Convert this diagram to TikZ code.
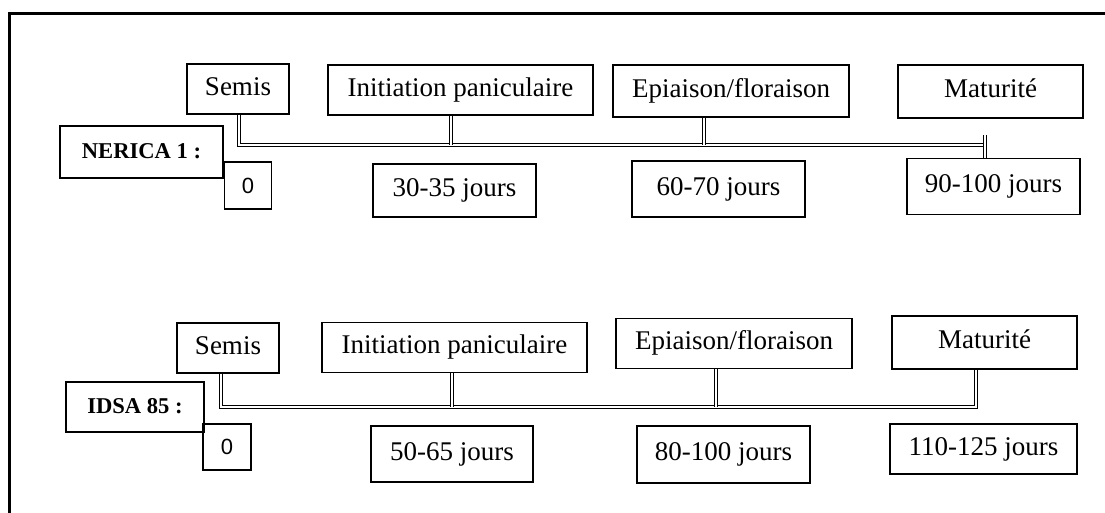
\documentclass[tikz,border=0pt]{standalone}
\usepackage{fontspec}
\setmainfont{Liberation Serif}
\newfontfamily\zerofont{Liberation Sans}
\usepackage{tikz}

\begin{document}
\begin{tikzpicture}[x=0.5pt, y=-0.5pt, font=\fontsize{13.5}{16}\selectfont, line width=0.7pt,
    stage/.style = {draw, inner sep=0pt, minimum height=25pt, text height=9.5pt, text depth=3pt},
    period/.style = {draw, inner sep=0pt, minimum height=28pt, text height=9.5pt, text depth=3pt},
    variety/.style = {draw, inner sep=0pt, minimum height=25.5pt, text height=8pt, text depth=1pt, font=\fontsize{11.3}{13}\selectfont\bfseries},
    day/.style = {draw, inner sep=0pt, minimum width=23.5pt, minimum height=23.5pt, font=\fontsize{11}{12}\selectfont\zerofont},
    timeline/.style = {double, double distance=0.6pt, line width=0.7pt}]
    \useasboundingbox (0,0) rectangle (1105,513);
    \draw[line width=1.5pt] (9.5,520) -- (9.5,13.5) -- (1110,13.5);
    \node[stage, minimum width=51pt] (semis1) at (238,89) {Semis};
    \node[stage, minimum width=132.5pt] (init1) at (460.5,90) {Initiation paniculaire};
    \node[stage, minimum width=118pt, minimum height=26pt] (epi1) at (731,91) {Epiaison/floraison};
    \node[stage, minimum width=92.5pt, minimum height=26.5pt] (mat1) at (990.5,91.5) {Maturité};
    \node[variety, minimum width=81.5pt, minimum height=26pt] (nerica) at (141.5,152) {NERICA 1 :};
    \node[day] (d0a) at (248,185.5) {0};
    \node[period, minimum width=81.5pt, minimum height=26.5pt] (d1a) at (454.5,190.5) {30-35 jours};
    \node[period, minimum width=86.5pt] (d2a) at (718.5,189) {60-70 jours};
    \node[period, minimum width=86.5pt] (d3a) at (993.5,186.5) {90-100 jours};
    \coordinate (a1) at (239,145);
    \coordinate (b1) at (985,145);
    \coordinate (k1) at (451,145);
    \coordinate (k2) at (704,145);
    \coordinate (k3) at (985,135);
    \draw[timeline] (semis1.south -| a1) -- (a1) -- (b1);
    \draw[timeline] (init1.south -| k1) -- (k1);
    \draw[timeline] (epi1.south -| k2) -- (k2);
    \draw[timeline] (k3) -- (k3 |- d3a.north);
    \node[stage, minimum width=51pt] (semis2) at (228,348) {Semis};
    \node[stage, minimum width=132.5pt] (init2) at (454.5,347.5) {Initiation paniculaire};
    \node[stage, minimum width=118pt] (epi2) at (734,343.5) {Epiaison/floraison};
    \node[stage, minimum width=92.5pt, minimum height=26.5pt] (mat2) at (984.5,342.5) {Maturité};
    \node[variety, minimum width=69pt, minimum height=25pt] (idsa) at (135,407) {IDSA 85 :};
    \node[day, minimum width=24pt, minimum height=23pt] (d0b) at (227,447) {0};
    \node[period, minimum width=81pt] (d1b) at (452,454) {50-65 jours};
    \node[period, minimum width=86.5pt, minimum height=28.5pt] (d2b) at (723.5,454.5) {80-100 jours};
    \node[period, minimum width=93.5pt, minimum height=25pt] (d3b) at (983.5,449) {110-125 jours};
    \coordinate (a2) at (221,407);
    \coordinate (b2) at (976,407);
    \coordinate (k4) at (452,407);
    \coordinate (k5) at (716,407);
    \draw[timeline] (semis2.south -| a2) -- (a2) -- (b2) -- (mat2.south -| b2);
    \draw[timeline] (init2.south -| k4) -- (k4);
    \draw[timeline] (epi2.south -| k5) -- (k5);
\end{tikzpicture}
\end{document}
